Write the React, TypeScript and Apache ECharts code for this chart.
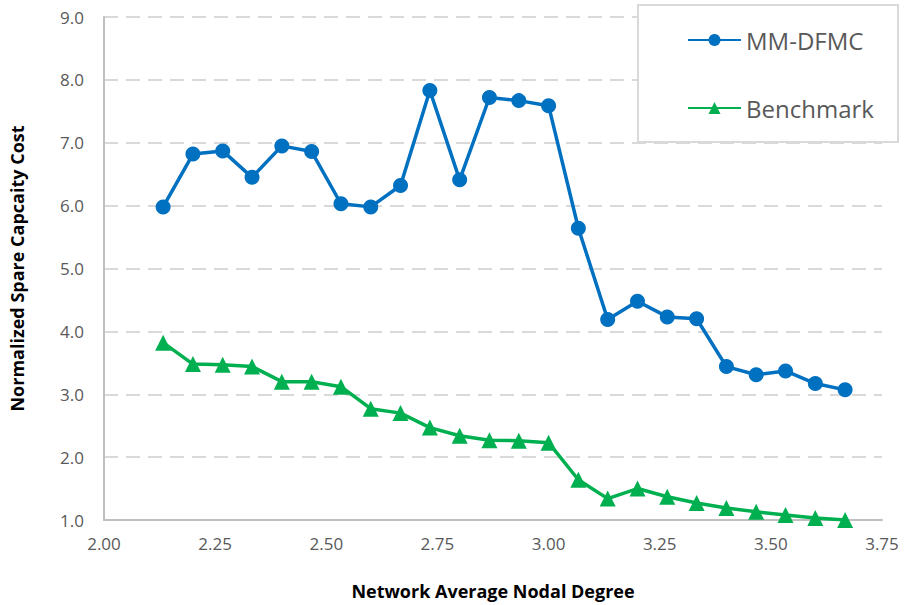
import React, { useEffect, useRef } from "react";
import * as echarts from "echarts";

const degrees = [
  2.133, 2.2, 2.267, 2.333, 2.4, 2.467, 2.533, 2.6, 2.667, 2.733, 2.8, 2.867,
  2.933, 3.0, 3.067, 3.133, 3.2, 3.267, 3.333, 3.4, 3.467, 3.533, 3.6, 3.667,
];
const mmDfmc = [
  5.98, 6.82, 6.87, 6.45, 6.95, 6.86, 6.03, 5.98, 6.32, 7.83, 6.41, 7.72,
  7.67, 7.59, 5.64, 4.19, 4.48, 4.23, 4.2, 3.44, 3.31, 3.37, 3.17, 3.07,
];
const benchmark = [
  3.82, 3.48, 3.47, 3.44, 3.2, 3.2, 3.12, 2.77, 2.7, 2.47, 2.34, 2.27,
  2.26, 2.23, 1.64, 1.34, 1.5, 1.37, 1.27, 1.19, 1.13, 1.08, 1.03, 1.0,
];
const seriesNames = ["MM-DFMC", "Benchmark"];
const xTitle = "Network Average Nodal Degree";
const yTitle = "Normalized Spare Capcaity Cost";

const FONT = "'Open Sans', 'Noto Sans', sans-serif";

export default function App() {
  const ref = useRef<HTMLDivElement>(null);
  useEffect(() => {
    if (!ref.current) return;
    const chart = echarts.init(ref.current, undefined, { renderer: "svg" });
    chart.setOption({
      animation: false,
      backgroundColor: "#ffffff",
      textStyle: { fontFamily: FONT },
      grid: { left: 103, right: 23, top: 17, bottom: 85, containLabel: false },
      xAxis: {
        type: "value",
        min: 2,
        max: 3.75,
        interval: 0.25,
        name: xTitle,
        nameLocation: "middle",
        nameGap: 62,
        nameTextStyle: { fontFamily: FONT, fontSize: 18, fontWeight: "bold", color: "#000" },
        axisLine: { show: true, lineStyle: { color: "#bfbfbf", width: 2 } },
        axisTick: { show: false },
        splitLine: { show: false },
        axisLabel: {
          formatter: (v: number) => v.toFixed(2),
          fontFamily: FONT,
          fontSize: 17,
          color: "#595959",
          margin: 15,
        },
      },
      yAxis: {
        type: "value",
        min: 1,
        max: 9,
        interval: 1,
        name: yTitle,
        nameLocation: "middle",
        nameGap: 78,
        nameRotate: 90,
        nameTextStyle: { fontFamily: FONT, fontSize: 18, fontWeight: "bold", color: "#000" },
        axisLine: { show: true, lineStyle: { color: "#bfbfbf", width: 2 } },
        axisTick: { show: false },
        splitLine: { show: true, lineStyle: { color: "#d9d9d9", width: 2, type: [14, 8] } },
        axisLabel: {
          formatter: (v: number) => v.toFixed(1),
          fontFamily: FONT,
          fontSize: 17,
          color: "#595959",
          margin: 20,
        },
      },
      legend: {
        orient: "vertical",
        left: 687,
        top: 28,
        padding: 0,
        itemWidth: 53,
        itemHeight: 15,
        itemGap: 44,
        z: 20,
        textStyle: { fontFamily: FONT, fontSize: 24, color: "#595959", lineHeight: 24 },
        data: seriesNames,
      },
      graphic: [
        {
          type: "rect",
          z: 10,
          shape: { x: 638, y: 5, width: 260, height: 137 },
          style: { fill: "#ffffff", stroke: "#d9d9d9", lineWidth: 2 },
        },
      ],
      series: [
        {
          name: seriesNames[0],
          type: "line",
          data: degrees.map((d, i) => [d, mmDfmc[i]]),
          symbol: "circle",
          symbolSize: 15,
          lineStyle: { color: "#0070C0", width: 3.5 },
          itemStyle: { color: "#0070C0" },
          z: 3,
        },
        {
          name: seriesNames[1],
          type: "line",
          data: degrees.map((d, i) => [d, benchmark[i]]),
          symbol: "triangle",
          symbolSize: 16,
          lineStyle: { color: "#00B050", width: 3.5 },
          itemStyle: { color: "#00B050" },
          z: 3,
        },
      ],
    });
    return () => chart.dispose();
  }, []);
  return <div ref={ref} style={{ width: 905, height: 605, position: "absolute", left: 0, top: 0 }} />;
}
